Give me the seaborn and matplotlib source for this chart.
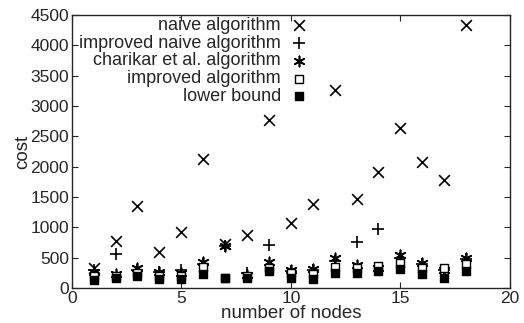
import numpy as np
import pandas as pd
import matplotlib
matplotlib.use('Agg')
import matplotlib.pyplot as plt
import seaborn as sns

nodes = list(range(1, 19))
naive = [330, 780, 1350, 600, 930, 2120, 725, 873, 2770, 1076, 1378, 3260, 1466, 1905, 2630, 2080, 1780, 4330]
improved_naive = [300, 560, 300, 260, 300, 400, 690, 250, 710, 280, 300, 450, 765, 980, 500, 400, 300, 480]
charikar = [270, 230, 330, 270, 250, 430, 700, 220, 430, 300, 320, 490, 380, 330, 540, 420, 300, 490]
improved = [200, 200, 250, 200, 200, 350, 170, 200, 330, 250, 230, 350, 330, 370, 410, 330, 330, 400]
lower_bound = [130, 170, 200, 150, 150, 230, 160, 170, 280, 160, 150, 250, 250, 280, 310, 230, 170, 280]

series = [
    ('naive algorithm', naive, 'x', 60, 'black', 1.2),
    ('improved naive algorithm', improved_naive, '+', 70, 'black', 1.2),
    ('charikar et al. algorithm', charikar, (6, 2, 0), 55, 'black', 1.2),
    ('improved algorithm', improved, 's', 40, 'white', 1.0),
    ('lower bound', lower_bound, 's', 40, 'black', 1.0),
]

sns.set_style('ticks')
plt.rcParams['font.family'] = ['Liberation Sans', 'DejaVu Sans']

fig = plt.figure(figsize=(5.24, 3.23), dpi=100)
ax = fig.add_axes([0.137, 0.108, 0.836, 0.846])

for name, vals, marker, size, face, lw in series:
    df = pd.DataFrame({'nodes': nodes, 'cost': vals})
    sns.scatterplot(data=df, x='nodes', y='cost', marker=marker, s=size,
                    color=face, edgecolor='black', linewidth=lw, ax=ax, label=name)

ax.set_xlim(0, 20)
ax.set_ylim(0, 4500)
ax.set_xticks([0, 5, 10, 15, 20])
ax.set_yticks(np.arange(0, 4501, 500))
ax.tick_params(direction='in', top=True, right=True, labelsize=12.5, length=4, pad=2)
for sp in ax.spines.values():
    sp.set_linewidth(1.0)
    sp.set_visible(True)
ax.set_xlabel('number of nodes', fontsize=13.5, labelpad=-1)
ax.set_ylabel('cost', fontsize=13.5, labelpad=-1)

ax.legend(loc='upper left', bbox_to_anchor=(0.0, 1.02), frameon=False, markerfirst=False,
          fontsize=13, handletextpad=0.6, labelspacing=0.05, borderaxespad=0.3,
          handlelength=0.8, borderpad=0.1)

fig.savefig('out.png', dpi=100)
